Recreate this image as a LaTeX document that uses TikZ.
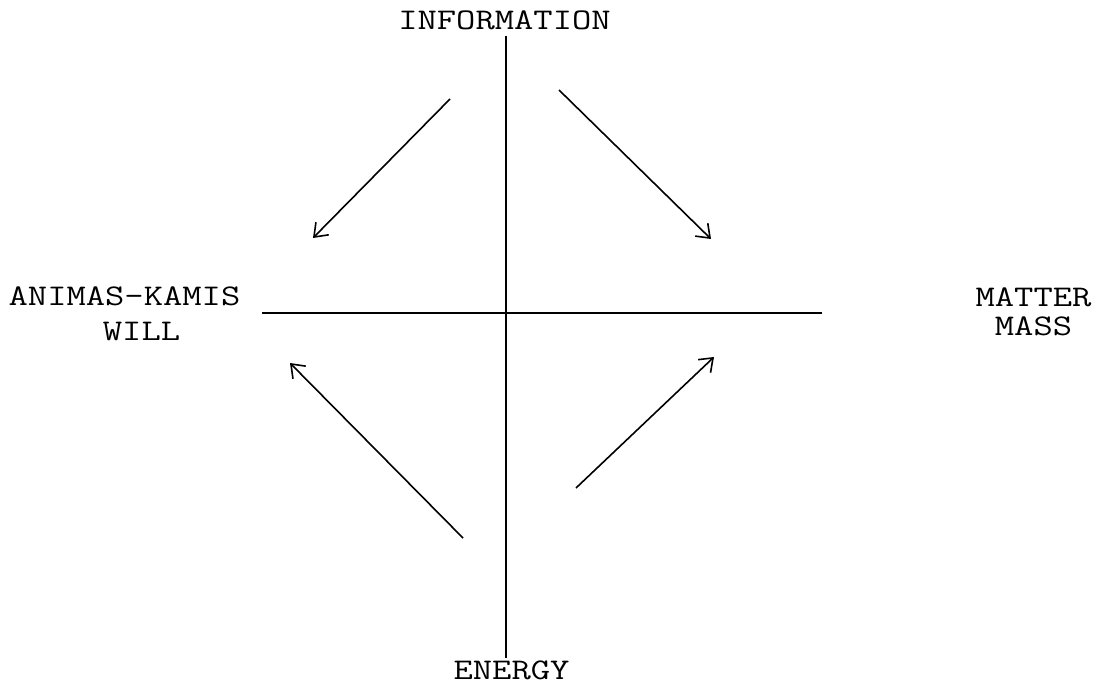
\documentclass[tikz,border=0pt]{standalone}
\usepackage{fontspec}
\newfontfamily\courfont[FakeStretch=1.25]{Latin Modern Mono}
\usetikzlibrary{arrows.meta}
\begin{document}
\begin{tikzpicture}[x=1pt,y=-1pt,
  lbl/.style={font=\courfont\fontsize{30}{31}\selectfont, inner sep=0pt, anchor=base, text height=18pt, text depth=0pt},
  axis/.style={line width=2.4pt},
  flow/.style={line width=1.6pt, -{Straight Barb[length=12pt,width=18pt,line width=1.6pt]}}]
\useasboundingbox (0,0) rectangle (1098,685);
\coordinate (vt) at (506,36);
\coordinate (vb) at (506,658);
\coordinate (hl) at (262,313);
\coordinate (hr) at (822,313);
\draw[axis] (vt) -- (vb);
\draw[axis] (hl) -- (hr);
\node[lbl] (info) at (504.5,29.5) {INFORMATION};
\node[lbl] (energy) at (511.5,679) {ENERGY};
\node[lbl] (animas) at (124.5,305) {ANIMAS-KAMIS};
\node[lbl] (will) at (141.5,340) {WILL};
\node[lbl] (matter) at (1033.5,306) {MATTER};
\node[lbl] (mass) at (1033.5,335) {MASS};
\coordinate (a1s) at (450,99);  \coordinate (a1e) at (313,238);
\coordinate (a2s) at (559,90);  \coordinate (a2e) at (711,239);
\coordinate (a3s) at (463,538); \coordinate (a3e) at (290,363);
\coordinate (a4s) at (576,488); \coordinate (a4e) at (714,357);
\draw[flow] (a1s) -- (a1e);
\draw[flow] (a2s) -- (a2e);
\draw[flow] (a3s) -- (a3e);
\draw[flow] (a4s) -- (a4e);
\end{tikzpicture}
\end{document}
